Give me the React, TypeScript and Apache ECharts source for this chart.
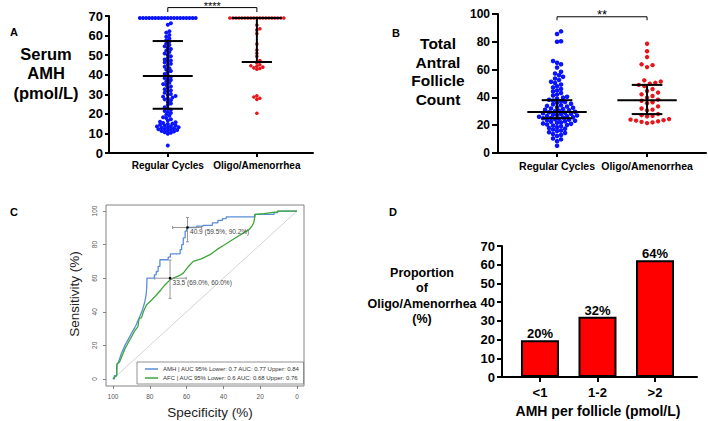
import React, { useEffect, useRef } from 'react';
import * as echarts from 'echarts';

const FONT = '"Liberation Sans", Arial, sans-serif';

// ---------- Panel A : Serum AMH ----------
const catsAB = ['Regular Cycles', 'Oligo/Amenorrhea'];
const amhRegular = [
  3.8, 9.8, 10.3, 10.6, 11.0, 11.2, 11.4, 11.7, 12.0, 12.1, 12.3, 12.6, 12.9, 13.0, 13.2, 13.5, 13.7, 14.0, 14.1, 14.4,
  14.8, 15.0, 15.3, 15.7, 16.0, 16.6, 17.2, 17.9, 18.3, 19.0, 19.6, 20.4, 20.9, 21.5, 22.1, 22.8, 23.4, 24.6, 25.3, 26.2,
  27.0, 27.4, 27.9, 28.3, 28.8, 29.1, 29.6, 30.2, 30.8, 31.5, 32.0, 32.6, 33.3, 34.0, 34.7, 35.2, 35.9, 36.4, 37.3, 37.8,
  38.2, 39.0, 39.6, 40.4, 41.2, 41.9, 42.6, 43.3, 44.1, 45.0, 45.6, 46.2, 46.9, 47.3, 47.8, 48.5, 49.4, 50.1, 50.8, 51.6,
  52.3, 53.1, 53.8, 54.5, 55.2, 56.0, 56.8, 57.6, 58.5, 59.4, 60.3, 61.5, 62.2, 65.5, 66.3,
  69, 69, 69, 69, 69, 69, 69, 69, 69, 69, 69, 69, 69, 69, 69, 69, 69, 69, 69,
];
const amhOligo = [
  20.3, 27.4, 28.0, 28.6, 29.2, 42.8, 43.2, 43.5, 43.9, 44.3, 44.6, 45.1, 46.0, 47.2, 49.4, 51.0, 52.6, 55.7, 61.0,
  62.8, 63.5, 65.4,
  69, 69, 69, 69, 69, 69, 69, 69, 69, 69, 69, 69, 69, 69, 69, 69, 69, 69, 69,
];
const amhMedian = [39.3, 69];
const amhQ1 = [22.6, 46.5];
const amhQ3 = [57.2, 69];

// ---------- Panel B : Total Antral Follicle Count ----------
const tafcRegular = [
  5.2, 8.5, 9.8, 10.5, 12.3, 13.0, 13.6, 14.4, 15.0, 15.8, 16.2, 16.9, 17.5, 18.0, 18.6, 19.2, 19.7, 20.1, 20.5, 21.0,
  21.3, 21.8, 22.0, 22.4, 22.9, 23.2, 23.6, 24.0, 24.3, 24.7, 25.0, 25.2, 25.5, 25.8, 26.1, 26.4, 26.7, 27.0, 27.3, 27.6,
  28.0, 28.3, 28.6, 29.0, 29.3, 29.6, 30.0, 30.4, 30.8, 31.2, 31.6, 32.0, 32.5, 33.0, 33.4, 33.9, 34.4, 35.0, 35.5, 36.1,
  36.7, 37.2, 37.8, 38.3, 39.0, 39.8, 40.5, 41.3, 42.0, 43.1, 44.2, 45.0, 46.1, 47.2, 48.0, 49.3, 50.4, 51.2, 52.5, 53.6,
  54.8, 55.9, 57.2, 58.4, 61.5, 63.8, 64.9, 66.2, 80.0, 80.4, 85.6, 87.5,
];
const tafcOligo = [
  21.5, 22.0, 22.4, 22.8, 23.3, 23.6, 24.0, 24.4, 26.3, 26.8, 27.2, 28.0, 30.6, 31.2, 32.0, 33.5, 35.8, 36.5, 37.6,
  38.4, 39.8, 41.0, 42.2, 43.5, 44.6, 46.0, 48.2, 49.0, 49.8, 50.5, 51.4, 52.3, 61.8, 63.2, 63.8, 69.0, 73.2, 78.6,
];
const tafcMedian = [29.5, 38];
const tafcQ1 = [25, 28];
const tafcQ3 = [38, 49];

// ---------- Panel C : ROC ----------
const rocNames = [
  'AMH | AUC 95% Lower: 0.7 AUC: 0.77 Upper: 0.84',
  'AFC | AUC 95% Lower: 0.6 AUC: 0.68 Upper: 0.76',
];
const amhRoc = [
  [100, 0], [99.2, 0], [99.2, 2], [98, 2], [98, 8], [97, 10], [95.5, 15], [93.5, 20], [91.5, 24], [89.5, 28],
  [87.5, 32], [85.5, 37], [84, 41], [82.7, 46], [82, 50], [81.7, 54], [81.5, 60], [77.5, 60], [77.5, 62], [76.5, 62],
  [76.5, 64], [75.5, 64], [75.5, 67], [74.5, 67], [74.5, 71], [70, 71], [70, 72.5], [68.8, 72.5], [68.8, 74.5],
  [63.5, 74.5], [63.5, 77], [62.7, 77], [62.7, 80], [61.8, 80], [61.8, 84], [60.8, 84], [60.8, 88], [60, 88],
  [60, 90.2], [54.5, 90.2], [54.5, 91], [51, 91], [51, 91.5], [46, 91.5], [46, 93], [43, 93], [43, 94.5],
  [40.5, 94.5], [40.5, 95.5], [38.5, 95.5], [38.5, 96.5], [23, 96.5], [23, 98], [12.5, 98], [12.5, 99], [10.5, 99],
  [10.5, 100], [0, 100],
];
const afcRoc = [
  [100, 0], [99.5, 1], [98.5, 1.5], [98, 2], [97.8, 9], [96.5, 10], [95, 14], [93.5, 18], [92, 21], [90, 25],
  [88, 29], [86.5, 31], [85.8, 36], [84.5, 36.5], [83.5, 40], [81.8, 44], [79, 47], [76.4, 50], [74, 53], [71.8, 56],
  [69, 59], [67.3, 60], [64, 61.5], [61.8, 63], [59, 67], [56.4, 70], [52, 71.5], [47.3, 74], [43.6, 77], [40, 79.5],
  [36.4, 82], [32, 85], [29, 87], [26, 89], [24.5, 91], [23.5, 93], [22.7, 98], [18, 98.5], [11, 99.5], [10, 100],
  [0, 100],
];
const diagonal = [[100, 0], [0, 100]];
const rocTicks = [0, 20, 40, 60, 80, 100];
// [specificity, sensitivity, specLow, specHigh, sensLow, sensHigh]
const rocThresholds = [
  [59.5, 90.2, 67.6, 51.8, 81.7, 96.2],
  [69.0, 60.0, 77.3, 60.2, 48.0, 70.8],
];
const rocThresholdLabels = ['40.9 (59.5%, 90.2%)', '33.5 (69.0%, 60.0%)'];

// ---------- Panel D : bars ----------
const dCats = ['<1', '1-2', '>2'];
const dValues = [19.6, 32.2, 62.4];
const dLabels = ['20%', '32%', '64%'];

// ---------- layout ----------
const gridA = { left: 109, top: 16, width: 204, height: 137 };
const xRangeA = [-0.66, 1.63];
const gridB = { left: 498, top: 14, width: 208, height: 139 };
const xRangeB = [-0.656, 1.655];
const gridC = { left: 106, top: 205, width: 198, height: 181 };
const gridD = { left: 502, top: 246, width: 195, height: 131 };
const xRangeD = [-0.66, 2.73];

function beeswarm(values: number[], center: number, pxX: number, pxY: number, d: number) {
  const sorted = [...values].sort((a, b) => a - b);
  const placed: { x: number; y: number }[] = [];
  const out: number[][] = [];
  for (const v of sorted) {
    const y = v * pxY;
    let chosen = 0;
    for (let k = 0; k < 400; k++) {
      const off = (k % 2 === 1 ? 1 : -1) * Math.ceil(k / 2) * (d / 2);
      let ok = true;
      for (const p of placed) {
        const dx = p.x - off;
        const dy = p.y - y;
        if (dx * dx + dy * dy < d * d * 0.9) { ok = false; break; }
      }
      if (ok) { chosen = off; break; }
    }
    placed.push({ x: chosen, y });
    out.push([center + chosen / pxX, v]);
  }
  return out;
}

const pxXA = gridA.width / (xRangeA[1] - xRangeA[0]);
const pxYA = gridA.height / 70;
const pxXB = gridB.width / (xRangeB[1] - xRangeB[0]);
const pxYB = gridB.height / 100;

const whiskerRender = (hm: number, hq: number) => (params: any, api: any) => {
  const c = api.value(0), med = api.value(1), q1 = api.value(2), q3 = api.value(3);
  const ln = (x1: number, y1: number, x2: number, y2: number) => {
    const a = api.coord([x1, y1]);
    const b = api.coord([x2, y2]);
    return { type: 'line', shape: { x1: a[0], y1: a[1], x2: b[0], y2: b[1] }, style: { stroke: '#000', lineWidth: 2 } };
  };
  return {
    type: 'group',
    children: [ln(c, q1, c, q3), ln(c - hm, med, c + hm, med), ln(c - hq, q1, c + hq, q1), ln(c - hq, q3, c + hq, q3)],
  };
};

const bracketRender = (label: string, fontSize: number) => (params: any, api: any) => {
  const x0 = api.value(0), x1 = api.value(1), yb = api.value(2), yt = api.value(3);
  const a = api.coord([x0, yb]);
  const b = api.coord([x1, yb]);
  const a2 = api.coord([x0, yt]);
  const b2 = api.coord([x1, yt]);
  return {
    type: 'group',
    children: [
      { type: 'polyline', shape: { points: [a2, a, b, b2] }, style: { stroke: '#000', lineWidth: 1, fill: 'none' } },
      {
        type: 'text',
        style: {
          x: (a[0] + b[0]) / 2, y: a[1] + 4, text: label, textAlign: 'center', textVerticalAlign: 'bottom',
          fontSize, fontFamily: FONT, fill: '#000',
        },
      },
    ],
  };
};

const thresholdRender = (params: any, api: any) => {
  const s = api.value(0), se = api.value(1), sl = api.value(2), sh = api.value(3), el = api.value(4), eh = api.value(5);
  const p = api.coord([s, se]);
  const hl = api.coord([sl, se]);
  const hh = api.coord([sh, se]);
  const vl = api.coord([s, el]);
  const vh = api.coord([s, eh]);
  const st = { stroke: '#8a8a8a', lineWidth: 0.9 };
  const L = (x1: number, y1: number, x2: number, y2: number) => ({ type: 'line', shape: { x1, y1, x2, y2 }, style: st });
  return {
    type: 'group',
    children: [
      L(hl[0], hl[1], hh[0], hh[1]),
      L(hl[0], hl[1] - 1.5, hl[0], hl[1] + 1.5),
      L(hh[0], hh[1] - 1.5, hh[0], hh[1] + 1.5),
      L(vl[0], vl[1], vh[0], vh[1]),
      L(vl[0] - 1.5, vl[1], vl[0] + 1.5, vl[1]),
      L(vh[0] - 1.5, vh[1], vh[0] + 1.5, vh[1]),
      { type: 'circle', shape: { cx: p[0], cy: p[1], r: 1.3 }, style: { fill: '#000' } },
      {
        type: 'text',
        style: {
          x: p[0] + 2.5, y: p[1] + 1, text: rocThresholdLabels[params.dataIndex], textAlign: 'left',
          textVerticalAlign: 'top', fontSize: 6.5, fontFamily: FONT, fill: '#444',
        },
      },
    ],
  };
};

const gpLine = { show: true, onZero: false, lineStyle: { color: '#000', width: 2 } };
const gpTick = (len: number) => ({ show: true, inside: false, length: len, lineStyle: { color: '#000', width: 2 } });
const noSplit = { show: false };

const rTick = { show: true, inside: false, length: 3, lineStyle: { color: '#666', width: 0.8 }, customValues: rocTicks };

const option: any = {
  animation: false,
  backgroundColor: '#fff',
  grid: [
    { ...gridA, containLabel: false, outerBoundsMode: 'none' },
    { ...gridB, containLabel: false, outerBoundsMode: 'none' },
    { ...gridC, containLabel: false, outerBoundsMode: 'none', show: true, borderColor: '#666', borderWidth: 0.8, backgroundColor: 'transparent' },
    { ...gridD, containLabel: false, outerBoundsMode: 'none' },
  ],
  xAxis: [
    {
      gridIndex: 0, type: 'value', min: xRangeA[0], max: xRangeA[1], axisLine: gpLine,
      axisTick: { ...gpTick(4), customValues: [0, 1] }, splitLine: noSplit,
      axisLabel: { customValues: [0, 1], formatter: (v: number) => catsAB[Math.round(v)], margin: 7, fontSize: 10, fontWeight: 'bold', color: '#000', fontFamily: FONT },
    },
    {
      gridIndex: 1, type: 'value', min: xRangeB[0], max: xRangeB[1], axisLine: gpLine,
      axisTick: { ...gpTick(4), customValues: [0, 1] }, splitLine: noSplit,
      axisLabel: { customValues: [0, 1], formatter: (v: number) => catsAB[Math.round(v)], margin: 7, fontSize: 10.5, fontWeight: 'bold', color: '#000', fontFamily: FONT },
    },
    {
      gridIndex: 2, type: 'value', inverse: true, min: -3.8, max: 103.8, axisLine: { show: false, onZero: false },
      axisTick: rTick, splitLine: noSplit,
      axisLabel: { customValues: rocTicks, margin: 7, fontSize: 6.5, color: '#555', fontFamily: FONT },
    },
    {
      gridIndex: 3, type: 'value', min: xRangeD[0], max: xRangeD[1], axisLine: gpLine,
      axisTick: { ...gpTick(5), customValues: [0, 1, 2] }, splitLine: noSplit,
      axisLabel: { customValues: [0, 1, 2], formatter: (v: number) => dCats[Math.round(v)], margin: 9, fontSize: 13, fontWeight: 'bold', color: '#000', fontFamily: FONT },
    },
  ],
  yAxis: [
    {
      gridIndex: 0, type: 'value', min: 0, max: 70, interval: 10, axisLine: gpLine, axisTick: gpTick(4), splitLine: noSplit,
      axisLabel: { margin: 6, fontSize: 13, fontWeight: 'bold', color: '#000', fontFamily: FONT },
    },
    {
      gridIndex: 1, type: 'value', min: 0, max: 100, interval: 20, axisLine: gpLine, axisTick: gpTick(6), splitLine: noSplit,
      axisLabel: { margin: 8, fontSize: 12, fontWeight: 'bold', color: '#000', fontFamily: FONT },
    },
    {
      gridIndex: 2, type: 'value', min: -4.2, max: 103.6, axisLine: { show: false, onZero: false },
      axisTick: rTick, splitLine: noSplit,
      axisLabel: { customValues: rocTicks, rotate: 90, margin: 8, fontSize: 6.5, color: '#555', fontFamily: FONT },
    },
    {
      gridIndex: 3, type: 'value', min: 0, max: 70, interval: 10, axisLine: gpLine, axisTick: gpTick(5), splitLine: noSplit,
      axisLabel: { margin: 7, fontSize: 13, fontWeight: 'bold', color: '#000', fontFamily: FONT },
    },
  ],
  legend: {
    data: rocNames, orient: 'vertical', left: 137, top: 362, icon: 'rect', itemWidth: 13, itemHeight: 1.5, itemGap: 3,
    borderColor: '#777', borderWidth: 0.8, padding: [4, 4, 3, 8], borderRadius: 0,
    textStyle: { fontSize: 6, color: '#333', fontFamily: FONT },
  },
  graphic: [
    { type: 'text', left: 10, top: 26, style: { text: 'A', fontSize: 11, fontWeight: 'bold', fontFamily: FONT, fill: '#000' } },
    { type: 'text', left: 392, top: 27, style: { text: 'B', fontSize: 11, fontWeight: 'bold', fontFamily: FONT, fill: '#000' } },
    { type: 'text', left: 10, top: 206, style: { text: 'C', fontSize: 11, fontWeight: 'bold', fontFamily: FONT, fill: '#000' } },
    { type: 'text', left: 389, top: 206, style: { text: 'D', fontSize: 11, fontWeight: 'bold', fontFamily: FONT, fill: '#000' } },
    {
      type: 'text', x: 46, y: 44,
      style: { text: 'Serum\nAMH\n(pmol/L)', textAlign: 'center', fontSize: 16.5, lineHeight: 19.5, fontWeight: 'bold', fontFamily: FONT, fill: '#000' },
    },
    {
      type: 'text', x: 438, y: 34,
      style: { text: 'Total\nAntral\nFollicle\nCount', textAlign: 'center', fontSize: 15.5, lineHeight: 18.7, fontWeight: 'bold', fontFamily: FONT, fill: '#000' },
    },
    {
      type: 'text', x: 422, y: 265.5,
      style: { text: 'Proportion\nof\nOligo/Amenorrhea\n(%)', textAlign: 'center', fontSize: 12.5, lineHeight: 15.3, fontWeight: 'bold', fontFamily: FONT, fill: '#000' },
    },
    {
      type: 'text', x: 598, y: 404,
      style: { text: 'AMH per follicle (pmol/L)', textAlign: 'center', fontSize: 14, fontWeight: 'bold', fontFamily: FONT, fill: '#000' },
    },
    {
      type: 'text', x: 210, y: 405,
      style: { text: 'Specificity (%)', textAlign: 'center', fontSize: 13.5, fontFamily: FONT, fill: '#222' },
    },
    {
      type: 'text', x: 67, y: 294, rotation: Math.PI / 2,
      style: { text: 'Sensitivity (%)', textAlign: 'center', fontSize: 13.5, fontFamily: FONT, fill: '#222' },
    },
  ],
  series: [
    // Panel A
    { type: 'scatter', xAxisIndex: 0, yAxisIndex: 0, data: beeswarm(amhRegular, 0, pxXA, pxYA, 3.1), symbolSize: 4, itemStyle: { color: '#0a14ff', opacity: 1 } },
    { type: 'scatter', xAxisIndex: 0, yAxisIndex: 0, data: beeswarm(amhOligo, 1, pxXA, pxYA, 3.0), symbolSize: 3.6, itemStyle: { color: '#e5161c', opacity: 1 } },
    {
      type: 'custom', xAxisIndex: 0, yAxisIndex: 0, renderItem: whiskerRender(0.28, 0.17), z: 5,
      data: amhMedian.map((m, i) => [i, m, amhQ1[i], amhQ3[i]]),
    },
    { type: 'custom', xAxisIndex: 0, yAxisIndex: 0, renderItem: bracketRender('****', 11), clip: false, data: [[0, 1, 74.3, 72.0]] },
    // Panel B
    { type: 'scatter', xAxisIndex: 1, yAxisIndex: 1, data: beeswarm(tafcRegular, 0, pxXB, pxYB, 4.0), symbolSize: 4.6, itemStyle: { color: '#0a14ff', opacity: 1 } },
    { type: 'scatter', xAxisIndex: 1, yAxisIndex: 1, data: beeswarm(tafcOligo, 1, pxXB, pxYB, 5.5), symbolSize: 4.4, itemStyle: { color: '#e5161c', opacity: 1 } },
    {
      type: 'custom', xAxisIndex: 1, yAxisIndex: 1, renderItem: whiskerRender(0.33, 0.17), z: 5,
      data: tafcMedian.map((m, i) => [i, m, tafcQ1[i], tafcQ3[i]]),
    },
    { type: 'custom', xAxisIndex: 1, yAxisIndex: 1, renderItem: bracketRender('**', 13), clip: false, data: [[0, 1, 98.0, 95.5]] },
    // Panel C
    { type: 'line', xAxisIndex: 2, yAxisIndex: 2, data: diagonal, symbol: 'none', lineStyle: { color: '#cfcfcf', width: 0.9 }, silent: true },
    { name: rocNames[0], type: 'line', xAxisIndex: 2, yAxisIndex: 2, data: amhRoc, symbol: 'none', color: '#5a8ed6', lineStyle: { color: '#5a8ed6', width: 1.3 } },
    { name: rocNames[1], type: 'line', xAxisIndex: 2, yAxisIndex: 2, data: afcRoc, symbol: 'none', color: '#3ea63a', lineStyle: { color: '#3ea63a', width: 1.3 } },
    { type: 'custom', xAxisIndex: 2, yAxisIndex: 2, renderItem: thresholdRender, data: rocThresholds, z: 6 },
    // Panel D
    {
      type: 'bar', xAxisIndex: 3, yAxisIndex: 3, barWidth: 38,
      data: dValues.map((v, i) => [i, v]),
      itemStyle: { color: '#ff0000', borderColor: '#000', borderWidth: 2 },
      label: {
        show: true, position: 'top', distance: 0, formatter: (p: any) => dLabels[p.dataIndex],
        fontSize: 13, fontWeight: 'bold', color: '#000', fontFamily: FONT,
      },
    },
  ],
};

export default function App() {
  const ref = useRef<HTMLDivElement>(null);
  useEffect(() => {
    const chart = echarts.init(ref.current!, null, { renderer: 'svg' });
    chart.setOption(option);
    return () => chart.dispose();
  }, []);
  return (
    <div
      ref={ref}
      style={{ position: 'fixed', left: 0, top: 0, width: 708, height: 421, background: '#fff' }}
    />
  );
}
